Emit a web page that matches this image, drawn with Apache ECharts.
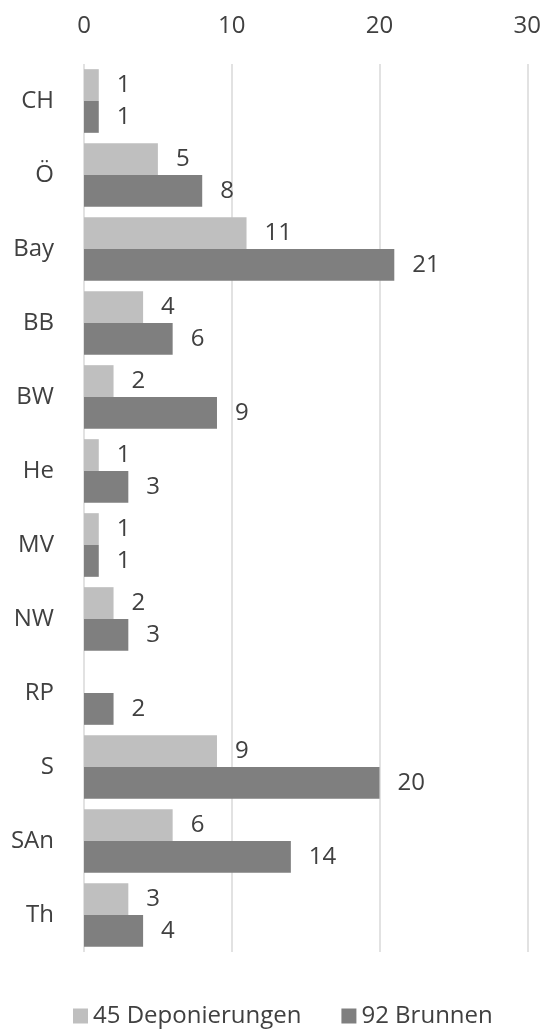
<!DOCTYPE html>
<html><head><meta charset="utf-8">
<script src="https://cdn.jsdelivr.net/npm/echarts@6/dist/echarts.min.js"></script>
<style>html,body{margin:0;padding:0;background:#fff}#c{width:544px;height:1029px}</style>
</head><body><div id="c"></div>
<script>
const categories = ['CH','Ö','Bay','BB','BW','He','MV','NW','RP','S','SAn','Th'];
const deponierungen = [1,5,11,4,2,1,1,2,0,9,6,3];
const brunnen = [1,8,21,6,9,3,1,3,2,20,14,4];
const seriesNames = ['45 Deponierungen','92 Brunnen'];
const xTicks = [0,10,20,30];

const font = '"Open Sans", sans-serif';
const txt = '#404040';
const chart = echarts.init(document.getElementById('c'));
const lbl = {show:true, position:'right', distance:18, color:txt, fontSize:24, fontFamily:font,
  formatter: p => p.value === 0 ? '' : p.value};
chart.setOption({
  animation:false,
  grid:{left:84, right:16, top:64, bottom:77, containLabel:false},
  legend:{top:999, left:68, itemWidth:15, itemHeight:15, itemGap:40, icon:'rect',
    textStyle:{color:txt, fontSize:24, fontFamily:font}},
  xAxis:{type:'value', position:'top', min:xTicks[0], max:xTicks[xTicks.length-1], interval:10,
    axisLine:{show:false}, axisTick:{show:false},
    axisLabel:{color:txt, fontSize:24, fontFamily:font, margin:26},
    splitLine:{lineStyle:{color:'#d9d9d9', width:1.5}}},
  yAxis:{type:'category', data:categories, inverse:true,
    axisLine:{show:false}, axisTick:{show:false},
    axisLabel:{color:txt, fontSize:24, fontFamily:font, margin:30}},
  series:[
    {name:seriesNames[0], type:'bar', data:deponierungen, itemStyle:{color:'#bfbfbf'},
     barGap:'0%', barCategoryGap:'14%', label:lbl},
    {name:seriesNames[1], type:'bar', data:brunnen, itemStyle:{color:'#7f7f7f'},
     barGap:'0%', barCategoryGap:'14%', label:lbl}
  ]
});
</script></body></html>
